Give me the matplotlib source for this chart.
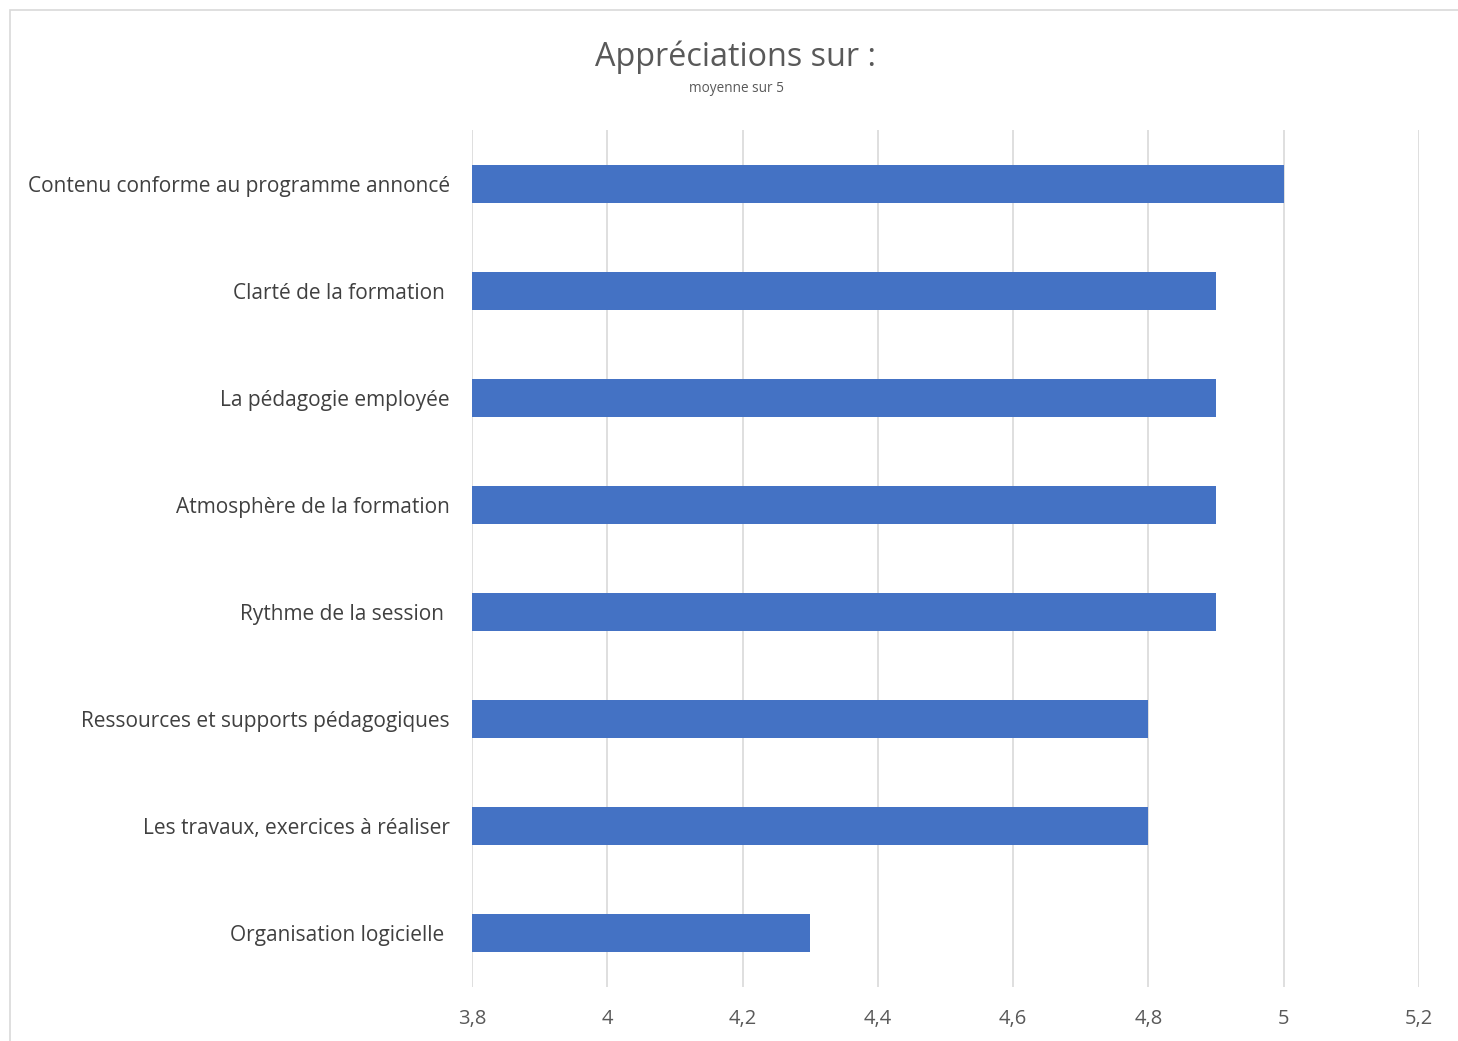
import matplotlib.pyplot as plt
from matplotlib.patches import Rectangle
from matplotlib.ticker import FuncFormatter

categories = [
    "Contenu conforme au programme annoncé",
    "Clarté de la formation ",
    "La pédagogie employée",
    "Atmosphère de la formation",
    "Rythme de la session ",
    "Ressources et supports pédagogiques",
    "Les travaux, exercices à réaliser",
    "Organisation logicielle ",
]
values = [5.0, 4.9, 4.9, 4.9, 4.9, 4.8, 4.8, 4.3]
x_ticks = [3.8, 4.0, 4.2, 4.4, 4.6, 4.8, 5.0, 5.2]

plt.rcParams['font.family'] = ['Open Sans', 'DejaVu Sans']
text_color = '#404040'
tick_color = '#595959'

fig = plt.figure(figsize=(14.58, 10.41), dpi=100)
ax = fig.add_axes([472 / 1458, 1 - 987 / 1041, (1419 - 472) / 1458, (987 - 130) / 1041])

# chart border (Excel frame, cut on the right and bottom)
fig.patches.append(Rectangle((10 / 1458, -0.01), 1.1, 1 - 10 / 1041 + 0.01,
                             transform=fig.transFigure, fill=False,
                             edgecolor='#D9D9D9', linewidth=1.2))

pos = list(range(len(categories)))
ax.barh(pos, values, height=0.355, color='#4472C4', zorder=3)

ax.set_xlim(3.8, 5.2)
ax.set_ylim(len(categories) - 0.5, -0.5)
ax.set_xticks(x_ticks)
ax.xaxis.set_major_formatter(FuncFormatter(lambda v, p: ('%g' % round(v, 1)).replace('.', ',')))
ax.set_yticks(pos)
ax.set_yticklabels(categories, fontsize=15, color=text_color)
ax.tick_params(axis='y', length=0, pad=16)
ax.tick_params(axis='x', length=0, pad=16, labelsize=14.5, labelcolor=tick_color)
ax.grid(axis='x', color='#D9D9D9', linewidth=1.2, zorder=0)
for s in ax.spines.values():
    s.set_visible(False)

fig.text(736 / 1458, 1 - 57 / 1041, "Appréciations sur :", ha='center', va='center',
         fontsize=23.3, color=tick_color)
fig.text(736 / 1458, 1 - 88.5 / 1041, "moyenne sur 5", ha='center', va='center',
         fontsize=9.8, color=tick_color)

fig.savefig('out.png', dpi=100)
